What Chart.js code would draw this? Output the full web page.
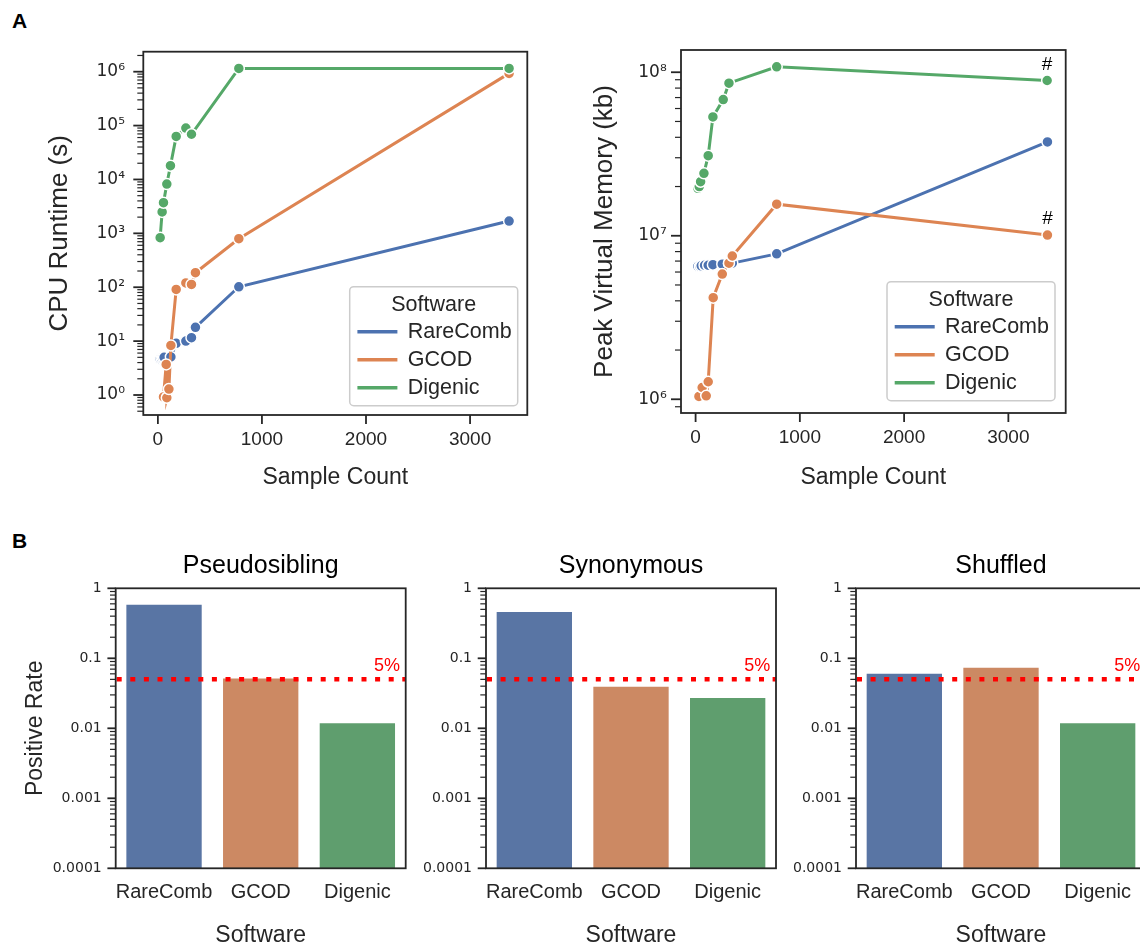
<!DOCTYPE html>
<html>
<head>
<meta charset="utf-8">
<script src="https://cdn.jsdelivr.net/npm/chart.js@4.4.1/dist/chart.umd.min.js"></script>
<style>
  html, body { margin: 0; padding: 0; background: #fff; }
  body { width: 1140px; height: 947px; overflow: hidden; position: relative; font-family: "Liberation Sans", Arial, sans-serif; }
  canvas { position: absolute; }
  .panel { position: absolute; font-weight: bold; font-size: 21px; line-height: 21px; color: #000; }
</style>
</head>
<body>
<div class="panel" style="left:12px; top:10px">A</div>
<div class="panel" style="left:12px; top:530px">B</div>
<canvas id="cpu" width="545" height="500" style="left:0; top:0"></canvas>
<canvas id="mem" width="540" height="500" style="left:550px; top:0"></canvas>
<canvas id="pseudo" width="410" height="440" style="left:0; top:520px"></canvas>
<canvas id="syn" width="380" height="440" style="left:410px; top:520px"></canvas>
<canvas id="shuf" width="370" height="440" style="left:790px; top:520px"></canvas>
<script>
const INK = '#262626';
const SANS = '"Liberation Sans", Arial, sans-serif';
const DEJAVU = '"DejaVu Sans", sans-serif';

// ---- Panel A, left: CPU runtime (s) vs sample count ----
const cpuRareCombN = [22, 35, 48, 60, 125, 176, 269, 323, 361, 778, 3375];
const cpuRareCombS = [4.7, 4.8, 4.9, 5.0, 5.1, 9.1, 10, 11.6, 18, 102, 1690];
const cpuGcodN = [54, 80, 86, 106, 125, 176, 269, 323, 361, 778, 3375];
const cpuGcodS = [0.92, 3.7, 0.89, 1.29, 8.3, 91, 120, 113, 186, 795, 930000];
const cpuDigenicN = [22, 41, 54, 86, 121, 176, 269, 323, 778, 3375];
const cpuDigenicS = [830, 2500, 3700, 8200, 18000, 63000, 90000, 69000, 1150000, 1150000];

// ---- Panel A, right: peak virtual memory (kb) vs sample count ----
const memRareCombN = [22, 41, 54, 86, 121, 166, 256, 320, 352, 778, 3375];
const memRareCombKb = [6.5e6, 6.5e6, 6.55e6, 6.6e6, 6.6e6, 6.65e6, 6.7e6, 6.75e6, 6.8e6, 7.75e6, 3.75e7];
const memGcodN = [32, 63, 102, 121, 169, 256, 320, 352, 778, 3375];
const memGcodKb = [1.04e6, 1.18e6, 1.05e6, 1.28e6, 4.18e6, 5.83e6, 6.8e6, 7.52e6, 1.56e7, 1.01e7];
const memDigenicN = [22, 35, 48, 80, 121, 166, 265, 320, 778, 3372];
const memDigenicKb = [1.95e7, 2.0e7, 2.14e7, 2.41e7, 3.09e7, 5.33e7, 6.8e7, 8.57e7, 1.08e8, 8.9e7];

// ---- Panel B: positive rate per software ----
const software = ['RareComb', 'GCOD', 'Digenic'];
const pseudosiblingRate = [0.60, 0.053, 0.0122];
const synonymousRate = [0.474, 0.0406, 0.028];
const shuffledRate = [0.0623, 0.076, 0.0122];
const thresholdRate = 0.05;
const thresholdLabel = '5%';

// ---- tick values ----
const sampleTicks = [0, 1000, 2000, 3000];
const cpuTicks = [1, 10, 100, 1e3, 1e4, 1e5, 1e6];
const memTicks = [1e6, 1e7, 1e8];
const rateTicks = [0.0001, 0.001, 0.01, 0.1, 1];
const rateTickLabels = ['0.0001', '0.001', '0.01', '0.1', '1'];

const lineColors = ['#4c72b0', '#dd8452', '#55a868'];
const barColors = ['#5975a4', '#cc8963', '#5f9e6e'];

const SUP = { '0': '\u2070', '1': '\u00b9', '2': '\u00b2', '3': '\u00b3', '4': '\u2074',
  '5': '\u2075', '6': '\u2076', '7': '\u2077', '8': '\u2078', '9': '\u2079', '-': '\u207b' };
function powerLabel(v) {
  const e = Math.round(Math.log10(v));
  return '10' + String(e).split('').map(c => SUP[c]).join('');
}

function points(xs, ys) {
  return xs.map((x, i) => ({ x: x, y: ys[i] }));
}

// all minor/major positions of a log axis
function logTickValues(min, max) {
  const out = [];
  for (let e = Math.floor(Math.log10(min)); e <= Math.ceil(Math.log10(max)); e++) {
    for (let k = 1; k <= 9; k++) {
      const v = k * Math.pow(10, e);
      if (v >= min * 0.9999 && v <= max * 1.0001) out.push({ v: v, major: k === 1 });
    }
  }
  return out;
}

// box around the axes plus outward tick marks (matplotlib style)
const frameTicks = {
  id: 'frameTicks',
  afterDraw(chart, args, opts) {
    const ctx = chart.ctx, a = chart.chartArea;
    const x = chart.scales.x, y = chart.scales.y;
    ctx.save();
    ctx.strokeStyle = INK;
    logTickValues(y.min, y.max).forEach(t => {
      const py = y.getPixelForValue(t.v);
      ctx.lineWidth = t.major ? 1.8 : 1.2;
      ctx.beginPath();
      ctx.moveTo(a.left, py);
      ctx.lineTo(a.left - (t.major ? opts.major : opts.minor), py);
      ctx.stroke();
    });
    if (opts.xMajor) {
      ctx.lineWidth = 1.8;
      x.ticks.forEach(t => {
        const px = x.getPixelForValue(t.value);
        ctx.beginPath();
        ctx.moveTo(px, a.bottom);
        ctx.lineTo(px, a.bottom + opts.xMajor);
        ctx.stroke();
      });
    }
    ctx.lineWidth = 1.8;
    ctx.strokeRect(a.left, a.top, a.right - a.left, a.bottom - a.top);
    ctx.restore();
  }
};

const softwareLegend = {
  id: 'softwareLegend',
  afterDraw(chart, args, opts) {
    const ctx = chart.ctx, a = chart.chartArea;
    const w = 168, h = 119;
    const left = a.right - opts.dx - w, top = a.bottom - opts.dy - h;
    ctx.save();
    ctx.beginPath();
    ctx.roundRect(left, top, w, h, 4);
    ctx.fillStyle = 'rgba(255,255,255,0.8)';
    ctx.fill();
    ctx.strokeStyle = '#cccccc';
    ctx.lineWidth = 1.5;
    ctx.stroke();
    ctx.font = '21.5px ' + SANS;
    ctx.fillStyle = INK;
    ctx.textBaseline = 'middle';
    ctx.textAlign = 'center';
    ctx.fillText('Software', left + w / 2, top + 18.5);
    ctx.textAlign = 'left';
    chart.data.datasets.forEach((ds, i) => {
      const ry = top + 45 + i * 28;
      ctx.strokeStyle = ds.borderColor;
      ctx.lineWidth = 3.5;
      ctx.beginPath();
      ctx.moveTo(left + 7.7, ry);
      ctx.lineTo(left + 47.7, ry);
      ctx.stroke();
      ctx.fillStyle = INK;
      ctx.fillText(ds.label, left + 58, ry);
    });
    ctx.restore();
  }
};

// "#" above the last point of the flagged series
const hashMarks = {
  id: 'hashMarks',
  afterDatasetsDraw(chart, args, opts) {
    if (!opts.series) return;
    const ctx = chart.ctx;
    ctx.save();
    ctx.font = '19px ' + SANS;
    ctx.fillStyle = '#000';
    ctx.textAlign = 'center';
    ctx.textBaseline = 'middle';
    opts.series.forEach(i => {
      const pts = chart.getDatasetMeta(i).data;
      const p = pts[pts.length - 1];
      ctx.fillText('#', p.x, p.y - 16);
    });
    ctx.restore();
  }
};

const thresholdLine = {
  id: 'thresholdLine',
  afterDatasetsDraw(chart) {
    const ctx = chart.ctx, a = chart.chartArea;
    const y = chart.scales.y.getPixelForValue(thresholdRate);
    ctx.save();
    ctx.strokeStyle = '#ff0000';
    ctx.lineWidth = 4.5;
    ctx.setLineDash([5, 8.6]);
    ctx.beginPath();
    ctx.moveTo(a.left + 1, y);
    ctx.lineTo(a.right, y);
    ctx.stroke();
    ctx.font = '18px ' + SANS;
    ctx.fillStyle = '#ff0000';
    ctx.textAlign = 'right';
    ctx.textBaseline = 'alphabetic';
    ctx.fillText(thresholdLabel, a.right - 5.7, y - 8);
    ctx.restore();
  }
};

const panelTitle = {
  id: 'panelTitle',
  afterDraw(chart, args, opts) {
    const ctx = chart.ctx, a = chart.chartArea;
    ctx.save();
    ctx.font = '25px ' + SANS;
    ctx.fillStyle = '#000';
    ctx.textAlign = 'center';
    ctx.textBaseline = 'alphabetic';
    ctx.fillText(opts.text, (a.left + a.right) / 2, a.top - 15.5);
    ctx.restore();
  }
};

function lineChart(id, o) {
  return new Chart(document.getElementById(id), {
    type: 'line',
    data: {
      datasets: o.series.map((s, i) => ({
        label: s.label,
        data: points(s.n, s.v),
        borderColor: lineColors[i],
        backgroundColor: lineColors[i],
        pointBackgroundColor: lineColors[i],
        pointBorderColor: '#ffffff',
        pointBorderWidth: 1.5,
        pointRadius: 5.5,
        borderWidth: 3,
        tension: 0,
        order: o.series.length - i
      }))
    },
    options: {
      responsive: false,
      animation: false,
      devicePixelRatio: 1,
      layout: { padding: { top: o.top, right: o.right, left: 0, bottom: 0 } },
      plugins: {
        legend: { display: false },
        tooltip: { enabled: false },
        frameTicks: { major: 10, minor: 6, xMajor: 9 },
        softwareLegend: o.legend,
        hashMarks: { series: o.hash }
      },
      scales: {
        x: {
          type: 'linear',
          min: -140,
          max: 3550,
          afterBuildTicks: s => { s.ticks = sampleTicks.map(v => ({ value: v })); },
          afterFit: s => { s.height = 500 - o.bottom; },
          grid: { display: false, drawTicks: false },
          border: { display: false },
          ticks: { color: INK, font: { family: SANS, size: 19 }, padding: 13.6, maxRotation: 0, autoSkip: false, callback: v => String(v) },
          title: { display: true, text: 'Sample Count', color: INK, font: { family: SANS, size: 23 }, padding: { top: 0, bottom: 8.2 } }
        },
        y: {
          type: 'logarithmic',
          min: o.yMin,
          max: o.yMax,
          afterBuildTicks: s => { s.ticks = o.yTicks.map(v => ({ value: v })); },
          afterFit: s => { s.width = o.left; },
          grid: { display: false, drawTicks: false },
          border: { display: false },
          ticks: { color: INK, font: { family: DEJAVU, size: 17 }, padding: o.yPad, autoSkip: false, callback: v => powerLabel(v) },
          title: { display: true, text: o.yTitle, color: INK, font: { family: SANS, size: 26 }, padding: { top: o.yTitlePad, bottom: 0 } }
        }
      }
    },
    plugins: [frameTicks, softwareLegend, hashMarks]
  });
}

function barChart(id, title, values, o) {
  return new Chart(document.getElementById(id), {
    type: 'bar',
    data: {
      labels: software,
      datasets: [{
        data: values,
        backgroundColor: barColors,
        borderColor: 'rgba(255,255,255,0.7)',
        borderWidth: 1,
        barPercentage: 0.8,
        categoryPercentage: 1
      }]
    },
    options: {
      responsive: false,
      animation: false,
      devicePixelRatio: 1,
      layout: { padding: { top: 68.3, right: o.right, left: 0, bottom: 0 } },
      plugins: {
        legend: { display: false },
        tooltip: { enabled: false },
        frameTicks: { major: 8.3, minor: 5.7, xMajor: 0 },
        panelTitle: { text: title }
      },
      scales: {
        x: {
          afterFit: s => { s.height = 440 - 348.3; },
          grid: { display: false, drawTicks: false },
          border: { display: false },
          ticks: { color: INK, font: { family: SANS, size: 20 }, padding: 11.9, maxRotation: 0, autoSkip: false },
          title: { display: true, text: 'Software', color: INK, font: { family: SANS, size: 23 }, padding: { top: 0, bottom: 10.4 } }
        },
        y: {
          type: 'logarithmic',
          min: 0.0001,
          max: 1,
          afterBuildTicks: s => { s.ticks = rateTicks.map(v => ({ value: v })); },
          afterFit: s => { s.width = o.left; },
          grid: { display: false, drawTicks: false },
          border: { display: false },
          ticks: { color: INK, font: { family: DEJAVU, size: 14 }, padding: 14, autoSkip: false, callback: (v, i) => rateTickLabels[i] },
          title: { display: !!o.yTitle, text: o.yTitle || '', color: INK, font: { family: SANS, size: 23 }, padding: { top: 22, bottom: 0 } }
        }
      }
    },
    plugins: [thresholdLine, frameTicks, panelTitle]
  });
}

lineChart('cpu', {
  series: [
    { label: 'RareComb', n: cpuRareCombN, v: cpuRareCombS },
    { label: 'GCOD', n: cpuGcodN, v: cpuGcodS },
    { label: 'Digenic', n: cpuDigenicN, v: cpuDigenicS }
  ],
  top: 51.7, right: 545 - 527.3, bottom: 415, left: 143.3,
  yMin: Math.pow(10, -0.371), yMax: Math.pow(10, 6.371), yTicks: cpuTicks,
  yPad: 18.3, yTitle: 'CPU Runtime (s)', yTitlePad: 44.4,
  legend: { dx: 9.6, dy: 9.3 }, hash: null
});

lineChart('mem', {
  series: [
    { label: 'RareComb', n: memRareCombN, v: memRareCombKb },
    { label: 'GCOD', n: memGcodN, v: memGcodKb },
    { label: 'Digenic', n: memDigenicN, v: memDigenicKb }
  ],
  top: 50, right: 540 - (1065.7 - 550), bottom: 413, left: 131,
  yMin: Math.pow(10, 5.916), yMax: Math.pow(10, 8.136), yTicks: memTicks,
  yPad: 14.3, yTitle: 'Peak Virtual Memory (kb)', yTitlePad: 39,
  legend: { dx: 10.7, dy: 12.3 }, hash: [1, 2]
});

barChart('pseudo', 'Pseudosibling', pseudosiblingRate, { left: 115.7, right: 410 - 405.7, yTitle: 'Positive Rate' });
barChart('syn', 'Synonymous', synonymousRate, { left: 76, right: 14 });
barChart('shuf', 'Shuffled', shuffledRate, { left: 66, right: 14 });
</script>
</body>
</html>
